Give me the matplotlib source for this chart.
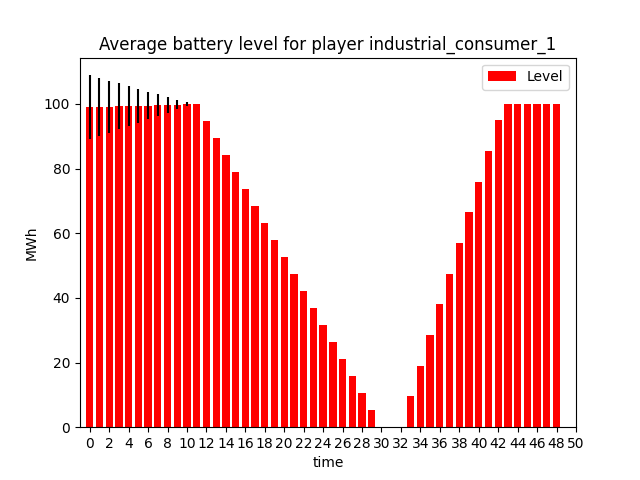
import matplotlib
matplotlib.use("Agg")
import matplotlib.pyplot as plt
import numpy as np

time = list(range(49))
level = [99.1, 99.1, 99.1, 99.4, 99.4, 99.4, 99.4, 99.7, 99.7, 99.7, 100.0, 100.0,
         94.74, 89.47, 84.21, 78.95, 73.68, 68.42, 63.16, 57.89, 52.63, 47.37, 42.11,
         36.84, 31.58, 26.32, 21.05, 15.79, 10.53, 5.26, 0.0, 0.0, 0.0,
         9.5, 19.0, 28.5, 38.0, 47.5, 57.0, 66.5, 76.0, 85.5, 95.0,
         100.0, 100.0, 100.0, 100.0, 100.0, 100.0]
err = [9.8, 8.9, 8.0, 7.1, 6.2, 5.2, 4.2, 3.4, 2.5, 1.4, 0.5] + [0.0] * 38

fig, ax = plt.subplots(figsize=(6.4, 4.8), dpi=100)
yerr = [e if e > 0 else np.nan for e in err]
ax.bar(time, level, width=0.75, color="red", label="Level")
ax.errorbar(time, level, yerr=yerr, fmt="none", ecolor="black", elinewidth=1.5)
ax.set_xlim(-1, 50)
ax.set_xticks(range(0, 51, 2))
ax.set_xlabel("time")
ax.set_ylabel("MWh")
ax.set_title("Average battery level for player industrial_consumer_1")
ax.legend(loc="upper right")
fig.savefig("out.png")
